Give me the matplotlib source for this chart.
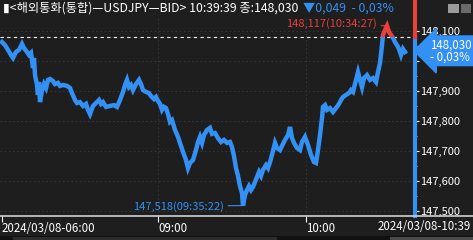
import matplotlib.pyplot as plt
from matplotlib.patches import Rectangle
import matplotlib.transforms as mtransforms
import numpy as np

plt.rcParams['font.family'] = ['Noto Sans CJK KR', 'DejaVu Sans']

# tick position (chart slot) and price
pos = [2, 5, 8, 11, 13, 16, 19, 22, 24, 27, 29, 31, 33, 34, 35, 37, 38, 39, 40, 42,
       44, 46, 48, 50, 53, 55, 58, 60, 63, 67, 70, 72, 75, 77, 80, 83, 86, 88, 90, 93,
       96, 99, 101, 103, 106, 110, 114, 117, 120, 123, 125, 127, 129, 131, 133, 136, 139, 141, 143, 146,
       149, 151, 154, 156, 158, 160, 162, 164, 166, 168, 170, 172, 175, 178, 180, 183, 186, 188, 190, 193,
       196, 198, 200, 202, 204, 207, 210, 212, 215, 218, 221, 224, 227, 230, 232, 234, 236, 238, 240, 242,
       243, 245, 247, 249, 251, 253, 255, 257, 259, 261, 263, 266, 268, 270, 272, 275, 277, 280, 282, 285,
       288, 290, 292, 294, 297, 300, 302, 305, 308, 311, 314, 316, 318, 320, 322, 323, 325, 327, 330, 333,
       336, 339, 341, 343, 346, 349, 351, 353, 356, 358, 360, 362, 364, 367, 370, 373, 376, 378, 380, 382,
       383, 385, 387, 389, 391, 393, 395, 397, 399, 401, 403, 405]
price = [148.063, 148.053, 148.037, 148.020, 148.010, 148.030, 148.037, 148.057, 148.043, 148.030,
         148.020, 148.027, 147.977, 148.010, 147.953, 147.920, 147.887, 147.930, 147.863, 147.903,
         147.923, 147.910, 147.937, 147.940, 147.933, 147.923, 147.927, 147.917, 147.920, 147.917,
         147.910, 147.893, 147.870, 147.860, 147.863, 147.850, 147.857, 147.837, 147.823, 147.850,
         147.860, 147.870, 147.857, 147.863, 147.847, 147.850, 147.853, 147.847, 147.870, 147.897,
         147.920, 147.937, 147.913, 147.920, 147.903, 147.923, 147.937, 147.923, 147.903, 147.897,
         147.893, 147.883, 147.873, 147.880, 147.867, 147.857, 147.837, 147.847, 147.843, 147.823,
         147.797, 147.803, 147.770, 147.747, 147.727, 147.697, 147.670, 147.643, 147.660, 147.670,
         147.703, 147.730, 147.747, 147.727, 147.753, 147.770, 147.777, 147.757, 147.760, 147.743,
         147.730, 147.737, 147.727, 147.730, 147.713, 147.683, 147.643, 147.617, 147.583, 147.560,
         147.518, 147.553, 147.570, 147.583, 147.570, 147.580, 147.597, 147.613, 147.630, 147.617,
         147.637, 147.653, 147.643, 147.663, 147.687, 147.727, 147.710, 147.703, 147.717, 147.737,
         147.753, 147.780, 147.743, 147.727, 147.710, 147.703, 147.730, 147.747, 147.720, 147.687,
         147.663, 147.660, 147.703, 147.753, 147.810, 147.847, 147.853, 147.837, 147.843, 147.830,
         147.843, 147.857, 147.870, 147.880, 147.887, 147.893, 147.903, 147.897, 147.937, 147.963,
         147.937, 147.913, 147.943, 147.953, 147.937, 147.943, 147.930, 147.963, 147.993, 148.053,
         148.087, 148.103, 148.117, 148.097, 148.087, 148.077, 148.063, 148.053, 148.040, 148.020,
         148.040, 148.030]

prev_close = 148.079
y_ticks = [147.5, 147.6, 147.7, 147.8, 147.9, 148.0, 148.1]
time_ticks = [2, 158, 306]
time_labels = ['2024/03/08-06:00', '09:00', '10:00']
hi_label = '148,117(10:34:27)'
lo_label = '147,518(09:35:22)'

bg = '#1e1e1e'
blue = '#3391f5'
red = '#e8403a'

fig = plt.figure(figsize=(4.73, 2.40), dpi=100, facecolor=bg)
ax = fig.add_axes([0, 0.1, 415 / 473, 0.825], facecolor=bg)
ax.set_xlim(0, 415)
ax.set_ylim(147.4833, 148.1433)

for s in ax.spines.values():
    s.set_visible(False)

# grid
for v in y_ticks:
    ax.axhline(v, color='#3a3a3a', lw=0.6, ls=(0, (2, 3)), zorder=0)
for t in time_ticks[1:]:
    ax.axvline(t, color='#3a3a3a', lw=0.6, ls=(0, (2, 3)), zorder=0)

# reference line
ax.axhline(prev_close, color='white', lw=0.8, ls=(0, (3, 3)), zorder=2)

# price line, red above previous close, blue below
x = np.array(pos)
y = np.array(price)
lb, = ax.plot(x, y, color=blue, lw=3.2, zorder=3, solid_joinstyle='miter')
lr, = ax.plot(x, y, color=red, lw=3.2, zorder=3, solid_joinstyle='miter')
lb.set_clip_path(Rectangle((0, 147.0), 420, prev_close - 147.0, transform=ax.transData))
lr.set_clip_path(Rectangle((0, prev_close), 420, 1.0, transform=ax.transData))

# right axis bar
ax.plot([415, 415], [147.4833, prev_close], color=blue, lw=3, clip_on=False, zorder=4)
ax.plot([415, 415], [prev_close, 148.25], color=red, lw=3, clip_on=False, zorder=4)

ax.yaxis.tick_right()
ax.set_yticks(y_ticks)
ax.set_yticklabels(['' if v == 148.0 else f'{v:.3f}'.replace('.', ',') for v in y_ticks])
ax.set_yticks([147.55, 147.65, 147.75, 147.85, 147.95, 148.05], minor=True)
ax.tick_params(axis='y', which='major', colors='white', labelsize=8, length=3, pad=0.5, direction='out')
ax.tick_params(axis='y', which='minor', colors='white', length=1.5)

ax.set_xticks(time_ticks)
ax.set_xticklabels(time_labels)
ax.tick_params(axis='x', colors='white', labelsize=8.3, length=4, pad=0.5, direction='out')
for lab in ax.get_xticklabels():
    lab.set_ha('left')

# hi / lo annotations
i_hi = int(np.argmax(y))
i_lo = int(np.argmin(y))
ax.annotate(hi_label, xy=(x[i_hi], y[i_hi]), xytext=(x[i_hi] - 10, y[i_hi] + 0.008),
            color=red, fontsize=8, ha='right', va='center',
            arrowprops=dict(arrowstyle='-', color=red, lw=0.8, shrinkA=1, shrinkB=0))
ax.annotate(lo_label, xy=(x[i_lo], y[i_lo]), xytext=(x[i_lo] - 19, y[i_lo] - 0.002),
            color=blue, fontsize=8, ha='right', va='center',
            arrowprops=dict(arrowstyle='-', color=blue, lw=0.8, shrinkA=1, shrinkB=0))

# current price box
tr = mtransforms.blended_transform_factory(ax.transAxes, ax.transData)
ax.text(1.035, y[-1] + 0.004, '148,030\n- 0,03%', transform=tr, color='white', fontsize=8.3,
        ha='left', va='center', linespacing=0.9, zorder=6, clip_on=False,
        bbox=dict(boxstyle='larrow,pad=0.2', fc=blue, ec=blue))

# bottom axis line and last time label
fig.add_artist(plt.Line2D([0, 1], [0.1, 0.1], color='#d0d0d0', lw=1.2))
fig.text(0.995, 0.058, '2024/03/08-10:39', color='white', fontsize=8.3, ha='right', va='center')

# header
fig.text(0.006, 0.965, '▮<해외통화(통합)—USDJPY—BID> 10:39:39 종:148,030', color='white',
         fontsize=8.8, ha='left', va='center')
fig.text(0.641, 0.965, '▼0,049  - 0,03%', color=blue, fontsize=8.8, ha='left', va='center')

# window buttons and bottom toolbar
fig.add_artist(Rectangle((448 / 473, 0.945), 11 / 473, 0.04, transform=fig.transFigure, fc='#9a9a9a', ec='none'))
fig.add_artist(Rectangle((461 / 473, 0.945), 10 / 473, 0.04, transform=fig.transFigure, fc='#6a6a6a', ec='none'))
fig.add_artist(Rectangle((0, 0), 1, 0.017, transform=fig.transFigure, fc='#111111', ec='none'))
fig.add_artist(Rectangle((13 / 473, 0), 264 / 473, 0.014, transform=fig.transFigure, fc='#2c2c2c', ec='none'))
fig.add_artist(Rectangle((390 / 473, 0), 83 / 473, 0.014, transform=fig.transFigure, fc='#4a4a4a', ec='none'))

fig.savefig('out.png', dpi=100, facecolor=bg)
